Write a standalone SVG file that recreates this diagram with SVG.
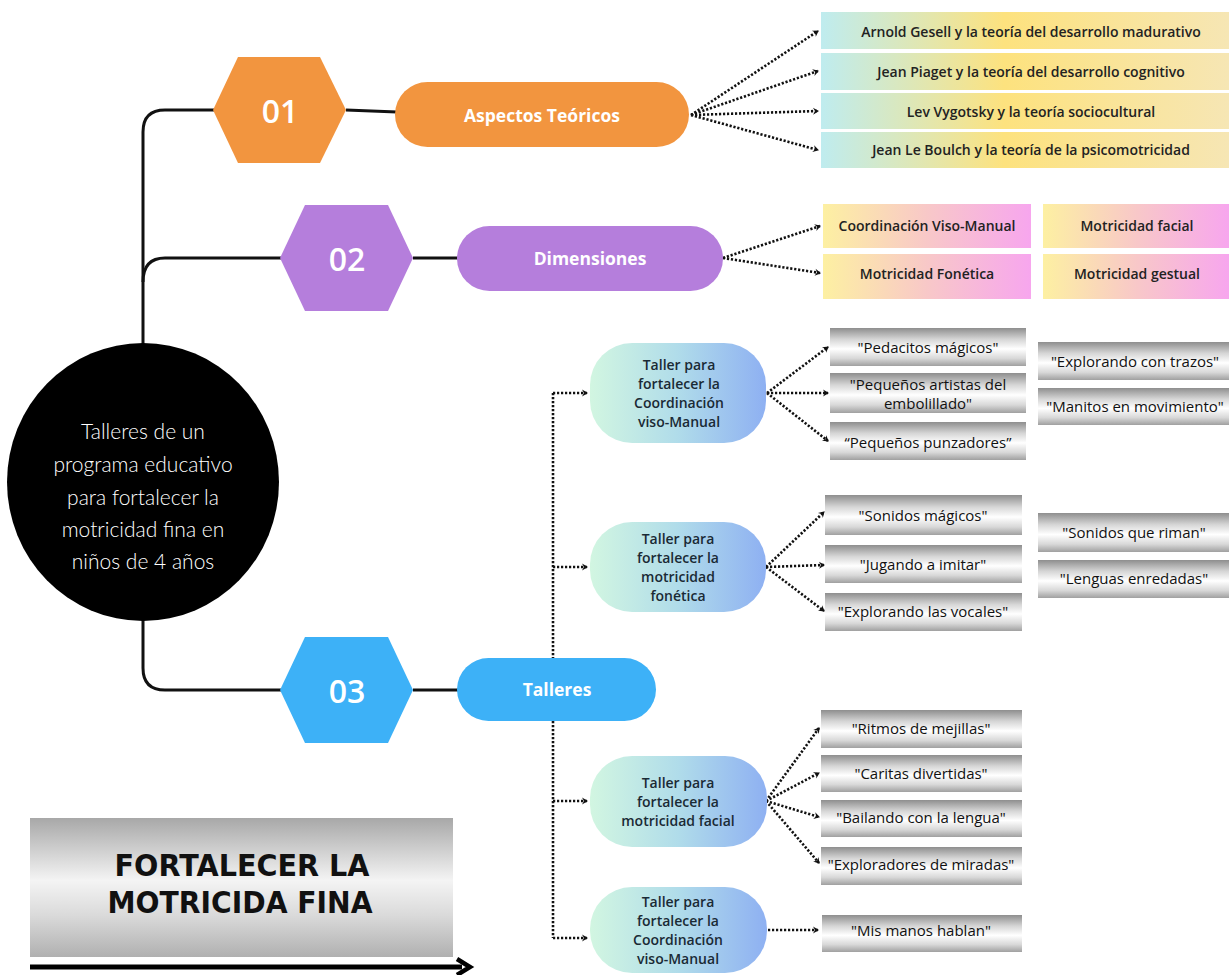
<svg xmlns="http://www.w3.org/2000/svg" width="1229" height="975" viewBox="0 0 1229 975">
<style>
.trunk{fill:none;stroke:#111;stroke-width:3;}
.dot{fill:none;stroke:#111;stroke-width:2.6;stroke-dasharray:2.2 1.8;marker-end:url(#arr);}
.num{font-family:"Open Sans","DejaVu Sans",sans-serif;font-size:32px;font-weight:600;fill:#fff;text-anchor:middle;dominant-baseline:central;}
.plab{font-family:"Open Sans","DejaVu Sans",sans-serif;font-size:17.5px;font-weight:700;fill:#fff;text-anchor:middle;dominant-baseline:central;}
.btx{font-family:"Open Sans","DejaVu Sans",sans-serif;font-size:14px;font-weight:600;fill:#222;text-anchor:middle;dominant-baseline:central;}
.gtx{font-family:"Open Sans","DejaVu Sans",sans-serif;font-size:15px;font-weight:500;fill:#111;text-anchor:middle;dominant-baseline:central;}
.ttx{font-family:"Open Sans","DejaVu Sans",sans-serif;font-size:14px;font-weight:600;fill:#1a2a35;text-anchor:middle;dominant-baseline:central;}
.ctx{font-family:Lato,"Open Sans",sans-serif;font-size:21px;font-weight:300;fill:#fff;text-anchor:middle;dominant-baseline:central;}
.big{font-family:"DejaVu Sans","Liberation Sans",sans-serif;font-size:30px;font-weight:700;fill:#111;text-anchor:middle;}
</style>
<defs>
<marker id="arr" markerUnits="userSpaceOnUse" markerWidth="9" markerHeight="9" refX="6" refY="4.5" orient="auto">
<path d="M1,1 L7,4.5 L1,8 L3,4.5 Z" fill="#111"/>
</marker>
<linearGradient id="gTeo" x1="0" y1="0" x2="1" y2="0">
<stop offset="0" stop-color="#bfecef"/><stop offset="0.45" stop-color="#fde27e"/><stop offset="1" stop-color="#f6e6b4"/>
</linearGradient>
<linearGradient id="gDim" x1="0" y1="0" x2="1" y2="0">
<stop offset="0" stop-color="#fdf0a2"/><stop offset="0.5" stop-color="#f8c8c8"/><stop offset="1" stop-color="#f7a6ee"/>
</linearGradient>
<linearGradient id="gTal" x1="0" y1="0" x2="1" y2="0">
<stop offset="0" stop-color="#d2f6e1"/><stop offset="0.5" stop-color="#b0dcea"/><stop offset="1" stop-color="#8eb0f2"/>
</linearGradient>
<linearGradient id="gGray" x1="0" y1="0" x2="0" y2="1">
<stop offset="0" stop-color="#8e8e8e"/><stop offset="0.3" stop-color="#d6d6d6"/><stop offset="0.55" stop-color="#ffffff"/><stop offset="0.8" stop-color="#d8d8d8"/><stop offset="1" stop-color="#a0a0a0"/>
</linearGradient>
<linearGradient id="gBig" x1="0" y1="0" x2="0" y2="1">
<stop offset="0" stop-color="#a8a8a8"/><stop offset="0.45" stop-color="#f4f4f4"/><stop offset="0.7" stop-color="#dadada"/><stop offset="1" stop-color="#b0b0b0"/>
</linearGradient>
</defs>
<rect width="1229" height="975" fill="#fff"/>

<g id="connectors">
<path class="trunk" d="M215,110 H165 Q143,110 143,132 V620 V668 Q143,690 165,690 H282"/>
<path class="trunk" d="M143,282 Q143,258 165,258 H282"/>
<path class="trunk" d="M346,110 L397,112"/>
<path class="trunk" d="M413,258 L459,258"/>
<path class="trunk" d="M413,690 L459,690"/>
<path class="dot" d="M691,115 L818,31"/>
<path class="dot" d="M691,115 L818,71"/>
<path class="dot" d="M691,115 L818,111"/>
<path class="dot" d="M691,115 L818,150"/>
<path class="dot" d="M723,258 L820,226"/>
<path class="dot" d="M723,258 L820,273"/>
<path fill="none" stroke="#111" stroke-width="2.6" stroke-dasharray="2.2 1.8" d="M553,393 V938"/>
<path class="dot" d="M553,393 H587"/>
<path class="dot" d="M553,567 H587"/>
<path class="dot" d="M553,801 H587"/>
<path class="dot" d="M553,938 H587"/>
<path class="dot" d="M767,393 L828,347"/>
<path class="dot" d="M767,393 L828,393"/>
<path class="dot" d="M767,393 L828,441"/>
<path class="dot" d="M766,567 L824,512"/>
<path class="dot" d="M766,567 L824,565"/>
<path class="dot" d="M766,567 L824,611"/>
<path class="dot" d="M766,801 L819,728"/>
<path class="dot" d="M766,801 L819,773"/>
<path class="dot" d="M766,801 L819,817"/>
<path class="dot" d="M766,801 L819,863"/>
<path class="dot" d="M768,930 L818,930"/>
</g>

<g id="center">
<ellipse cx="143" cy="482" rx="136" ry="139" fill="#000"/>
<text class="ctx" x="143" y="430">Talleres de un</text>
<text class="ctx" x="143" y="463">programa educativo</text>
<text class="ctx" x="143" y="496">para fortalecer la</text>
<text class="ctx" x="143" y="528">motricidad fina en</text>
<text class="ctx" x="143" y="560">niños de 4 años</text>
</g>

<g id="hex01">
<polygon points="213,110 238,57 320,57 346,110 320,163 238,163" fill="#f2953f"/>
<text class="num" x="280" y="110">01</text>
</g>
<g id="hex02">
<polygon points="280,258 305,205 388,205 413,258 388,311 305,311" fill="#b57edc"/>
<text class="num" x="347" y="258">02</text>
</g>
<g id="hex03">
<polygon points="280,690 305,637 388,637 413,690 388,743 305,743" fill="#3db1f7"/>
<text class="num" x="347" y="690">03</text>
</g>

<g id="pill-aspectos">
<rect x="395" y="82" width="294" height="65" rx="32.5" fill="#f2953f"/>
<text class="plab" x="542" y="115">Aspectos Teóricos</text>
</g>
<g id="pill-dimensiones">
<rect x="457" y="226" width="266" height="65" rx="32.5" fill="#b57edc"/>
<text class="plab" x="590" y="258">Dimensiones</text>
</g>
<g id="pill-talleres">
<rect x="457" y="658" width="199" height="63" rx="31.5" fill="#3db1f7"/>
<text class="plab" x="557" y="689" font-size="20">Talleres</text>
</g>

<g id="teo1"><rect x="821" y="12" width="408" height="37" fill="url(#gTeo)"/><text class="btx" x="1031" y="31">Arnold Gesell y la teoría del desarrollo madurativo</text></g>
<g id="teo2"><rect x="821" y="53" width="408" height="37" fill="url(#gTeo)"/><text class="btx" x="1031" y="71">Jean Piaget y la teoría del desarrollo cognitivo</text></g>
<g id="teo3"><rect x="821" y="93" width="408" height="36" fill="url(#gTeo)"/><text class="btx" x="1031" y="111">Lev Vygotsky y la teoría sociocultural</text></g>
<g id="teo4"><rect x="821" y="132" width="408" height="36" fill="url(#gTeo)"/><text class="btx" x="1031" y="149">Jean Le Boulch y la teoría de la psicomotricidad</text></g>

<g id="dim1"><rect x="823" y="204" width="208" height="44" fill="url(#gDim)"/><text class="btx" x="927" y="225">Coordinación Viso-Manual</text></g>
<g id="dim2"><rect x="1043" y="204" width="186" height="44" fill="url(#gDim)"/><text class="btx" x="1137" y="225">Motricidad facial</text></g>
<g id="dim3"><rect x="823" y="254" width="208" height="45" fill="url(#gDim)"/><text class="btx" x="927" y="273">Motricidad Fonética</text></g>
<g id="dim4"><rect x="1043" y="254" width="186" height="45" fill="url(#gDim)"/><text class="btx" x="1137" y="273">Motricidad gestual</text></g>

<g id="taller1">
<rect x="590" y="343" width="176" height="100" rx="42" fill="url(#gTal)"/>
<text class="ttx" x="679" y="364.5">Taller para</text>
<text class="ttx" x="679" y="383.5">fortalecer la</text>
<text class="ttx" x="679" y="402.5">Coordinación</text>
<text class="ttx" x="679" y="421.5">viso-Manual</text>
</g>
<g id="taller2">
<rect x="590" y="522" width="176" height="90" rx="42" fill="url(#gTal)"/>
<text class="ttx" x="678" y="538.5">Taller para</text>
<text class="ttx" x="678" y="557.5">fortalecer la</text>
<text class="ttx" x="678" y="576.5">motricidad</text>
<text class="ttx" x="678" y="595.5">fonética</text>
</g>
<g id="taller3">
<rect x="590" y="756" width="177" height="91" rx="42" fill="url(#gTal)"/>
<text class="ttx" x="678" y="782" font-size="14.5">Taller para</text>
<text class="ttx" x="678" y="801" font-size="14.5">fortalecer la</text>
<text class="ttx" x="678" y="820" font-size="14.5">motricidad facial</text>
</g>
<g id="taller4">
<rect x="590" y="887" width="177" height="86" rx="42" fill="url(#gTal)"/>
<text class="ttx" x="678" y="901.5">Taller para</text>
<text class="ttx" x="678" y="920.5">fortalecer la</text>
<text class="ttx" x="678" y="939.5">Coordinación</text>
<text class="ttx" x="678" y="958.5">viso-Manual</text>
</g>

<g id="a1"><rect x="830" y="328" width="196" height="38" fill="url(#gGray)"/><text class="gtx" x="928" y="347">"Pedacitos mágicos"</text></g>
<g id="a2"><rect x="830" y="373" width="196" height="40" fill="url(#gGray)"/><text class="gtx" x="928" y="383.5" font-size="13">"Pequeños artistas del</text><text class="gtx" x="928" y="402.5" font-size="13">embolillado"</text></g>
<g id="a3"><rect x="830" y="422" width="196" height="38" fill="url(#gGray)"/><text class="gtx" x="928" y="442">“Pequeños punzadores”</text></g>
<g id="a4"><rect x="1038" y="342" width="191" height="38" fill="url(#gGray)"/><text class="gtx" x="1135" y="361">"Explorando con trazos"</text></g>
<g id="a5"><rect x="1038" y="388" width="191" height="37" fill="url(#gGray)"/><text class="gtx" x="1135" y="406">"Manitos en movimiento"</text></g>

<g id="b1"><rect x="825" y="495" width="197" height="40" fill="url(#gGray)"/><text class="gtx" x="923" y="515">"Sonidos mágicos"</text></g>
<g id="b2"><rect x="825" y="545" width="197" height="38" fill="url(#gGray)"/><text class="gtx" x="923" y="564">"Jugando a imitar"</text></g>
<g id="b3"><rect x="825" y="593" width="197" height="38" fill="url(#gGray)"/><text class="gtx" x="923" y="611">"Explorando las vocales"</text></g>
<g id="b4"><rect x="1038" y="513" width="191" height="39" fill="url(#gGray)"/><text class="gtx" x="1134" y="532">"Sonidos que riman"</text></g>
<g id="b5"><rect x="1038" y="560" width="191" height="38" fill="url(#gGray)"/><text class="gtx" x="1134" y="578">"Lenguas enredadas"</text></g>

<g id="c1"><rect x="821" y="710" width="201" height="38" fill="url(#gGray)"/><text class="gtx" x="921" y="728">"Ritmos de mejillas"</text></g>
<g id="c2"><rect x="821" y="755" width="201" height="37" fill="url(#gGray)"/><text class="gtx" x="921" y="773">"Caritas divertidas"</text></g>
<g id="c3"><rect x="821" y="800" width="201" height="37" fill="url(#gGray)"/><text class="gtx" x="921" y="817">"Bailando con la lengua"</text></g>
<g id="c4"><rect x="821" y="847" width="201" height="38" fill="url(#gGray)"/><text class="gtx" x="921" y="864">"Exploradores de miradas"</text></g>
<g id="d1"><rect x="822" y="915" width="200" height="37" fill="url(#gGray)"/><text class="gtx" x="921" y="930">"Mis manos hablan"</text></g>

<g id="banner">
<rect x="30" y="818" width="423" height="139" fill="url(#gBig)"/>
<text class="big" x="242" y="876" textLength="255" lengthAdjust="spacingAndGlyphs">FORTALECER LA</text>
<text class="big" x="240" y="913" textLength="265" lengthAdjust="spacingAndGlyphs">MOTRICIDA FINA</text>
<path d="M30,967 H462" stroke="#000" stroke-width="5" fill="none"/>
<path d="M457,959 L470,967 L457,975" stroke="#000" stroke-width="4.5" fill="none" stroke-linejoin="miter"/>
</g>
</svg>
